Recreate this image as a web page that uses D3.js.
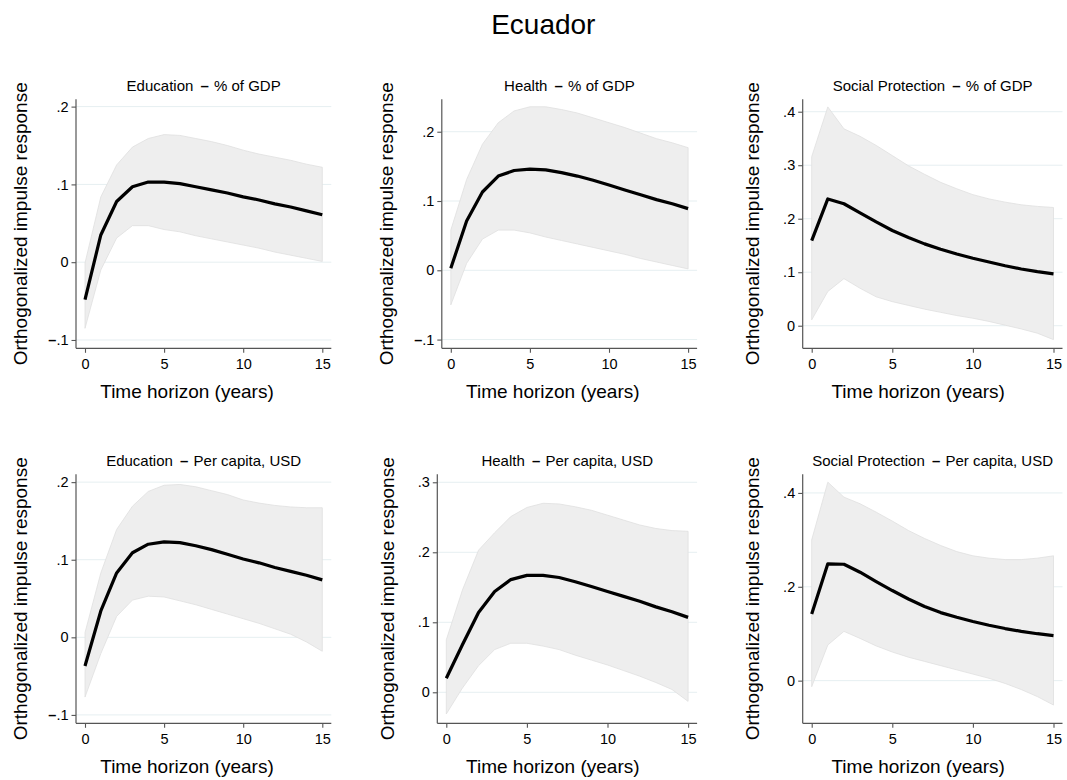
<!DOCTYPE html>
<html><head><meta charset="utf-8">
<script src="https://cdn.jsdelivr.net/npm/d3@7"></script>
<style>
body{margin:0;background:#fff}
svg{display:block}
text{font-family:"Liberation Sans",Arial,Helvetica,sans-serif;fill:#000}
</style>
</head><body>
<svg id="chart" width="1067" height="780"></svg>
<script>
// ---------------- DATA ----------------
const chartTitle = "Ecuador";
const yAxisTitle = "Orthogonalized impulse response";
const xAxisTitle = "Time horizon (years)";
const horizon = [0,1,2,3,4,5,6,7,8,9,10,11,12,13,14,15];
const xTickValues = [0,5,10,15];
const xTickLabels = ["0","5","10","15"];

const panelNames = ["Education","Health","Social Protection","Education","Health","Social Protection"];
const panelMeasures = ["% of GDP","% of GDP","% of GDP","Per capita, USD","Per capita, USD","Per capita, USD"];

// Education – % of GDP
const irfEduGdp = [-0.048,0.035,0.078,0.097,0.103,0.103,0.101,0.097,0.093,0.089,0.084,0.080,0.075,0.071,0.066,0.061];
const hiEduGdp  = [-0.001,0.084,0.125,0.148,0.159,0.164,0.163,0.159,0.155,0.150,0.144,0.139,0.135,0.131,0.126,0.122];
const loEduGdp  = [-0.085,-0.010,0.031,0.047,0.047,0.042,0.039,0.034,0.030,0.026,0.022,0.018,0.013,0.009,0.005,0.001];
const yTicksEduGdp = [-0.1,0,0.1,0.2];
const yLabelsEduGdp = ["–.1","0",".1",".2"];
const yDomainEduGdp = [-0.1107,0.2094];

// Health – % of GDP
const irfHeaGdp = [0.003,0.071,0.113,0.136,0.144,0.146,0.145,0.141,0.136,0.130,0.123,0.116,0.109,0.102,0.096,0.089];
const hiHeaGdp  = [0.058,0.131,0.182,0.213,0.230,0.236,0.236,0.232,0.227,0.220,0.213,0.206,0.198,0.190,0.184,0.177];
const loHeaGdp  = [-0.050,0.010,0.045,0.058,0.058,0.054,0.048,0.043,0.038,0.033,0.028,0.023,0.017,0.012,0.007,0.002];
const yTicksHeaGdp = [-0.1,0,0.1,0.2];
const yLabelsHeaGdp = ["–.1","0",".1",".2"];
const yDomainHeaGdp = [-0.1126,0.2468];

// Social Protection – % of GDP
const irfSocGdp = [0.159,0.237,0.228,0.211,0.194,0.178,0.165,0.153,0.143,0.134,0.126,0.119,0.112,0.106,0.101,0.097];
const hiSocGdp  = [0.316,0.409,0.368,0.354,0.337,0.318,0.299,0.283,0.268,0.256,0.245,0.237,0.231,0.226,0.223,0.221];
const loSocGdp  = [0.011,0.064,0.088,0.070,0.054,0.045,0.038,0.031,0.025,0.019,0.014,0.008,0.001,-0.006,-0.014,-0.026];
const yTicksSocGdp = [0,0.1,0.2,0.3,0.4];
const yLabelsSocGdp = ["0",".1",".2",".3",".4"];
const yDomainSocGdp = [-0.0422,0.4232];

// Education – Per capita, USD
const irfEduPc = [-0.037,0.034,0.083,0.109,0.120,0.123,0.122,0.118,0.113,0.107,0.101,0.096,0.090,0.085,0.080,0.074];
const hiEduPc  = [0.006,0.083,0.139,0.169,0.188,0.196,0.197,0.194,0.189,0.184,0.177,0.173,0.170,0.168,0.167,0.167];
const loEduPc  = [-0.077,-0.021,0.027,0.048,0.053,0.052,0.047,0.042,0.036,0.030,0.024,0.018,0.011,0.004,-0.006,-0.018];
const yTicksEduPc = [-0.1,0,0.1,0.2];
const yLabelsEduPc = ["–.1","0",".1",".2"];
const yDomainEduPc = [-0.1108,0.2101];

// Health – Per capita, USD
const irfHeaPc = [0.020,0.068,0.114,0.144,0.161,0.167,0.167,0.164,0.158,0.151,0.144,0.137,0.130,0.122,0.115,0.107];
const hiHeaPc  = [0.075,0.146,0.203,0.228,0.251,0.264,0.270,0.269,0.265,0.260,0.253,0.246,0.239,0.234,0.231,0.230];
const loHeaPc  = [-0.031,0.006,0.038,0.061,0.070,0.070,0.066,0.061,0.053,0.046,0.039,0.031,0.023,0.014,0.004,-0.013];
const yTicksHeaPc = [0,0.1,0.2,0.3];
const yLabelsHeaPc = ["0",".1",".2",".3"];
const yDomainHeaPc = [-0.0443,0.3114];

// Social Protection – Per capita, USD
const irfSocPc = [0.142,0.249,0.248,0.231,0.211,0.192,0.174,0.158,0.145,0.135,0.126,0.118,0.111,0.105,0.100,0.096];
const hiSocPc  = [0.300,0.423,0.391,0.377,0.359,0.340,0.320,0.303,0.288,0.275,0.266,0.261,0.258,0.258,0.261,0.266];
const loSocPc  = [-0.013,0.076,0.105,0.090,0.074,0.061,0.050,0.041,0.032,0.023,0.014,0.005,-0.006,-0.019,-0.034,-0.052];
const yTicksSocPc = [0,0.2,0.4];
const yLabelsSocPc = ["0",".2",".4"];
const yDomainSocPc = [-0.0909,0.4397];

const panels = [
  {irf: irfEduGdp, hi: hiEduGdp, lo: loEduGdp, ticks: yTicksEduGdp, labels: yLabelsEduGdp, domain: yDomainEduGdp},
  {irf: irfHeaGdp, hi: hiHeaGdp, lo: loHeaGdp, ticks: yTicksHeaGdp, labels: yLabelsHeaGdp, domain: yDomainHeaGdp},
  {irf: irfSocGdp, hi: hiSocGdp, lo: loSocGdp, ticks: yTicksSocGdp, labels: yLabelsSocGdp, domain: yDomainSocGdp},
  {irf: irfEduPc,  hi: hiEduPc,  lo: loEduPc,  ticks: yTicksEduPc,  labels: yLabelsEduPc,  domain: yDomainEduPc},
  {irf: irfHeaPc,  hi: hiHeaPc,  lo: loHeaPc,  ticks: yTicksHeaPc,  labels: yLabelsHeaPc,  domain: yDomainHeaPc},
  {irf: irfSocPc,  hi: hiSocPc,  lo: loSocPc,  ticks: yTicksSocPc,  labels: yLabelsSocPc,  domain: yDomainSocPc}
].map((p, i) => Object.assign(p, {name: panelNames[i], measure: panelMeasures[i]}));

// ---------------- LAYOUT ----------------
const colStarts = [0, 365.8, 731.2];
const rowTops = [99.3, 474.3];
const plotH = 249;
const axisColor = "#555";
const gridColor = "#e6eff1";

const svg = d3.select("#chart");

svg.append("text")
  .attr("x", 543.3).attr("y", 33.5)
  .attr("text-anchor", "middle")
  .style("font-size", "28px")
  .text(chartTitle);

function splitDash(sel) {
  sel.each(function() {
    const t = d3.select(this);
    const s = t.text();
    if (s.startsWith("–")) {
      t.text("");
      t.append("tspan").attr("font-weight", "bold").text("–");
      t.append("tspan").text(s.slice(1));
    }
  });
}

panels.forEach((p, i) => {
  const col = i % 3, row = Math.floor(i / 3);
  const hasNeg = p.ticks.some(t => t < 0);
  const left = colStarts[col] + (hasNeg ? 76 : 71.5);
  const right = colStarts[col] + 331.3;
  const top = rowTops[row];
  const bottom = top + plotH;

  const x = d3.scaleLinear().domain([0, 15]).range([left + 9, right - 9]);
  const y = d3.scaleLinear().domain(p.domain).range([bottom, top]);

  const g = svg.append("g");

  // grid lines
  g.selectAll("line.grid").data(p.ticks).enter().append("line")
    .attr("class", "grid")
    .attr("x1", left).attr("x2", right)
    .attr("y1", d => y(d)).attr("y2", d => y(d))
    .attr("stroke", gridColor).attr("stroke-width", 1);

  // confidence band
  const area = d3.area()
    .x((d, k) => x(horizon[k]))
    .y0((d, k) => y(p.lo[k]))
    .y1((d, k) => y(p.hi[k]));
  g.append("path").datum(horizon)
    .attr("d", area)
    .attr("fill", "#eeeeee")
    .attr("stroke", "#e0e0e0")
    .attr("stroke-width", 0.8);

  // IRF line
  const line = d3.line()
    .x((d, k) => x(horizon[k]))
    .y((d, k) => y(p.irf[k]));
  g.append("path").datum(horizon)
    .attr("d", line)
    .attr("fill", "none")
    .attr("stroke", "#000")
    .attr("stroke-width", 3.2)
    .attr("stroke-linejoin", "round");

  // y axis
  const yAxis = d3.axisLeft(y)
    .tickValues(p.ticks)
    .tickFormat((d, k) => p.labels[k])
    .tickSize(4.5).tickSizeOuter(0).tickPadding(3);
  const ya = g.append("g").attr("transform", `translate(${left},0)`).call(yAxis);
  ya.select(".domain").remove();
  ya.selectAll(".tick line").attr("stroke", axisColor).attr("stroke-width", 1.1);
  ya.selectAll(".tick text").style("font-size", "14.5px").attr("fill", "#000").call(splitDash);
  g.append("line")
    .attr("x1", left).attr("x2", left).attr("y1", top).attr("y2", bottom)
    .attr("stroke", axisColor).attr("stroke-width", 1.2);

  // x axis
  const xAxis = d3.axisBottom(x)
    .tickValues(xTickValues)
    .tickFormat((d, k) => xTickLabels[k])
    .tickSize(4.5).tickSizeOuter(0).tickPadding(6);
  const xa = g.append("g").attr("transform", `translate(0,${bottom})`).call(xAxis);
  xa.select(".domain").remove();
  xa.selectAll(".tick line").attr("stroke", axisColor).attr("stroke-width", 1.1);
  xa.selectAll(".tick text").style("font-size", "14.5px").attr("fill", "#000");
  g.append("line")
    .attr("x1", left).attr("x2", right).attr("y1", bottom).attr("y2", bottom)
    .attr("stroke", axisColor).attr("stroke-width", 1.2);

  // subplot title
  const st = g.append("text")
    .attr("x", (left + right) / 2).attr("y", top - 8.3)
    .attr("text-anchor", "middle")
    .style("font-size", "15px");
  st.append("tspan").text(p.name + " ");
  st.append("tspan").attr("dx", 3).attr("font-weight", "bold").text("–");
  st.append("tspan").attr("dx", 1).text(" " + p.measure);

  // y axis title
  const yx = left - (hasNeg ? 49.3 : 43.6);
  g.append("text")
    .attr("transform", `translate(${yx},${(top + bottom) / 2}) rotate(-90)`)
    .attr("text-anchor", "middle")
    .style("font-size", "19px")
    .text(yAxisTitle);

  // x axis title
  g.append("text")
    .attr("x", colStarts[col] + 187).attr("y", bottom + 49.3)
    .attr("text-anchor", "middle")
    .style("font-size", "19px")
    .text(xAxisTitle);
});
</script>
</body></html>
